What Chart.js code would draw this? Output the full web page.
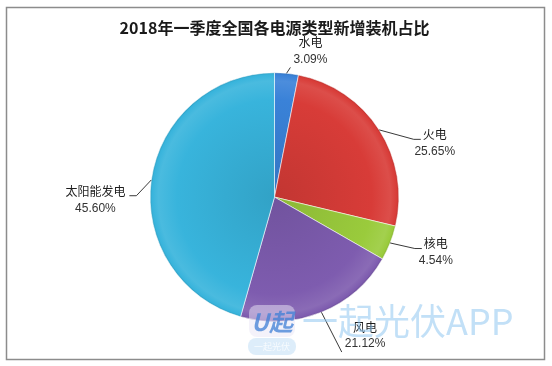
<!DOCTYPE html>
<html>
<head>
<meta charset="utf-8">
<script src="https://cdn.jsdelivr.net/npm/chart.js@4"></script>
<style>
  html, body { margin: 0; padding: 0; background: #ffffff; }
  #wrap { width: 552px; height: 366px; position: relative; }
</style>
</head>
<body>
<div id="wrap"><canvas id="c" width="552" height="366"></canvas></div>
<script>
// ---- data ----
const chartTitle = '2018年一季度全国各电源类型新增装机占比';
const categories = ['水电', '火电', '核电', '风电', '太阳能发电'];
const shares = [3.09, 25.65, 4.54, 21.12, 45.60];
const shareLabels = ['3.09%', '25.65%', '4.54%', '21.12%', '45.60%'];

// ---- style / layout (not data) ----
const sliceColors = ['#3a82d8', '#d83c38', '#9acb3c', '#7e5caf', '#38b4dc'];
// label placement: angle (deg clockwise from top) and distance as a multiple of pie radius
const labelAngle = [13.8, 71.3, 108.8, 146.8, 269];
const labelDist = [1.21, 1.36, 1.37, 1.33, 1.44];

function shade(hex, f) {
  const n = parseInt(hex.slice(1), 16);
  let r = (n >> 16) & 255, g = (n >> 8) & 255, b = n & 255;
  if (f >= 0) { r += (255 - r) * f; g += (255 - g) * f; b += (255 - b) * f; }
  else { r *= 1 + f; g *= 1 + f; b *= 1 + f; }
  return 'rgb(' + Math.round(r) + ',' + Math.round(g) + ',' + Math.round(b) + ')';
}

function sliceFill(context) {
  const chart = context.chart;
  const base = sliceColors[context.dataIndex];
  const a = chart.chartArea;
  if (!a) return base;
  const cx = (a.left + a.right) / 2, cy = (a.top + a.bottom) / 2;
  const r = Math.min(a.right - a.left, a.bottom - a.top) / 2;
  const g = chart.ctx.createRadialGradient(cx, cy, 0, cx, cy, r);
  g.addColorStop(0, shade(base, -0.1));
  g.addColorStop(0.78, base);
  g.addColorStop(0.93, shade(base, 0.09));
  g.addColorStop(0.98, base);
  g.addColorStop(1, shade(base, -0.15));
  return g;
}

const framePlugin = {
  id: 'frame',
  beforeDraw(chart) {
    const ctx = chart.ctx;
    ctx.save();
    ctx.fillStyle = '#ffffff';
    ctx.fillRect(0, 0, chart.width, chart.height);
    ctx.strokeStyle = '#8c8c8c';
    ctx.lineWidth = 1.5;
    ctx.strokeRect(6.5, 7.5, 538, 352);
    ctx.restore();
  }
};

const labelPlugin = {
  id: 'sliceLabels',
  afterDatasetsDraw(chart) {
    const ctx = chart.ctx;
    const meta = chart.getDatasetMeta(0);
    const f1 = '12px "Noto Sans CJK SC"';
    const f2 = '12px "Liberation Sans"';
    ctx.save();
    meta.data.forEach((arc, i) => {
      const p = arc.getProps(['x', 'y', 'startAngle', 'endAngle', 'outerRadius'], true);
      const mid = (p.startAngle + p.endAngle) / 2;
      const ex = p.x + Math.cos(mid) * p.outerRadius;
      const ey = p.y + Math.sin(mid) * p.outerRadius;
      const la = (labelAngle[i] - 90) * Math.PI / 180;
      const lx = p.x + Math.cos(la) * p.outerRadius * labelDist[i];
      const ly = p.y + Math.sin(la) * p.outerRadius * labelDist[i];
      ctx.font = f1; const w1 = ctx.measureText(categories[i]).width;
      ctx.font = f2; const w2 = ctx.measureText(shareLabels[i]).width;
      const y1 = ly - 8.5, y2 = ly + 8.5;
      const dx = lx - p.x, dy = ly - p.y;
      ctx.strokeStyle = '#3a3a3a';
      ctx.lineWidth = 1;
      ctx.beginPath();
      ctx.moveTo(ex, ey);
      if (Math.abs(dy) > 1.5 * Math.abs(dx)) {
        ctx.lineTo(lx - w2 / 2 - 3, y2 + 8);
      } else if (dx > 0) {
        const ly0 = y1 + 5;
        const tx = lx - w1 / 2 - 2;
        ctx.lineTo(tx - 7, ly0);
        ctx.lineTo(tx, ly0);
      } else {
        const ly0 = y1 + 4;
        const tx = lx + w1 / 2 + 4;
        ctx.lineTo(tx + 7, ly0);
        ctx.lineTo(tx, ly0);
      }
      ctx.stroke();
      ctx.textAlign = 'center';
      ctx.textBaseline = 'middle';
      ctx.fillStyle = '#1e1e1e';
      ctx.font = f1; ctx.fillText(categories[i], lx, y1);
      ctx.fillStyle = '#333333';
      ctx.font = f2; ctx.fillText(shareLabels[i], lx, y2);
    });
    ctx.restore();
  }
};

const watermarkPlugin = {
  id: 'watermark',
  afterDraw(chart) {
    const ctx = chart.ctx;
    ctx.save();
    // logo tile
    ctx.globalAlpha = 0.5;
    ctx.fillStyle = '#e9e6f5';
    ctx.beginPath();
    ctx.roundRect(249, 305, 46, 32, 8);
    ctx.fill();
    ctx.fillStyle = '#bcdcf6';
    ctx.beginPath();
    ctx.roundRect(248, 338, 48, 17, 8);
    ctx.fill();
    ctx.globalAlpha = 0.75;
    ctx.fillStyle = '#3f7fd6';
    ctx.font = 'italic bold 24px "Noto Sans CJK SC"';
    ctx.textAlign = 'center';
    ctx.textBaseline = 'middle';
    ctx.fillText('U起', 272, 322);
    ctx.fillStyle = '#ffffff';
    ctx.font = '9px "Noto Sans CJK SC"';
    ctx.fillText('一起光伏', 272, 347);
    // watermark text
    ctx.globalAlpha = 0.5;
    ctx.fillStyle = '#86c2ef';
    ctx.font = '36px "Noto Sans CJK SC"';
    ctx.textAlign = 'left';
    ctx.fillText('一起光伏APP', 302, 321);
    ctx.restore();
  }
};

new Chart(document.getElementById('c'), {
  type: 'pie',
  data: {
    labels: categories,
    datasets: [{
      data: shares,
      backgroundColor: sliceFill,
      borderColor: 'rgba(255,255,255,0.55)',
      borderWidth: 1
    }]
  },
  options: {
    responsive: false,
    animation: false,
    layout: { padding: { left: 0, right: 3, top: 0, bottom: 44 } },
    plugins: {
      legend: { display: false },
      tooltip: { enabled: false },
      title: {
        display: true,
        text: chartTitle,
        color: '#1a1a1a',
        font: { family: '"Noto Sans CJK SC"', size: 16, weight: 'bold' },
        padding: { top: 18, bottom: 35 }
      }
    }
  },
  plugins: [framePlugin, labelPlugin, watermarkPlugin]
});
</script>
</body>
</html>
